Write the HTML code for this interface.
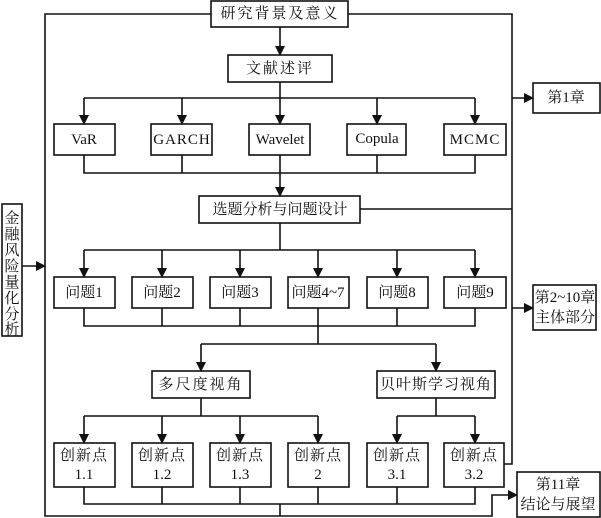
<!DOCTYPE html>
<html><head><meta charset="utf-8"><style>
html,body{margin:0;padding:0;background:#fff;}
svg{display:block;}
text{font-family:"Liberation Serif","Noto Serif CJK SC","Noto Sans CJK SC",serif;font-size:15px;fill:#111;text-anchor:middle;dominant-baseline:central;}
</style></head><body>
<svg width="601" height="518" viewBox="0 0 601 518" xmlns="http://www.w3.org/2000/svg">
<defs><marker id="a" markerWidth="10" markerHeight="10" refX="9" refY="5" orient="auto" markerUnits="userSpaceOnUse"><path d="M0,0 L10,5 L0,10 z" fill="#111"/></marker></defs>
<g fill="none" stroke="#111" stroke-width="1.6">
<!-- boxes -->
<rect x="211" y="1" width="137" height="26"/>
<rect x="228" y="55" width="104" height="27"/>
<rect x="54" y="124" width="61" height="31"/>
<rect x="151" y="124" width="61" height="31"/>
<rect x="249" y="124" width="61" height="31"/>
<rect x="347" y="124" width="59" height="31"/>
<rect x="444" y="124" width="62" height="31"/>
<rect x="199" y="196" width="161" height="27"/>
<rect x="2" y="204" width="20" height="132"/>
<rect x="54" y="277" width="61" height="31"/>
<rect x="132" y="277" width="61" height="31"/>
<rect x="210" y="277" width="61" height="31"/>
<rect x="288" y="277" width="61" height="31"/>
<rect x="367" y="277" width="61" height="31"/>
<rect x="444" y="277" width="62" height="31"/>
<rect x="152" y="371" width="98" height="27"/>
<rect x="377" y="371" width="118" height="27"/>
<rect x="54" y="443" width="61" height="44"/>
<rect x="132" y="443" width="61" height="44"/>
<rect x="210" y="443" width="61" height="44"/>
<rect x="288" y="443" width="61" height="44"/>
<rect x="367" y="443" width="61" height="44"/>
<rect x="444" y="443" width="60" height="44"/>
<rect x="533" y="83" width="67" height="30"/>
<rect x="533" y="285" width="63" height="45"/>
<rect x="517" y="472" width="83" height="45"/>
<!-- frame lines -->
<polyline points="211,14 45,14 45,516 492,516 492,495 517,495" marker-end="url(#a)"/>
<polyline points="348,14 512,14 512,464 504,464"/>
<line x1="360" y1="209" x2="512" y2="209"/>
<line x1="512" y1="98" x2="533" y2="98" marker-end="url(#a)"/>
<line x1="512" y1="308" x2="533" y2="308" marker-end="url(#a)"/>
<line x1="22" y1="266" x2="45" y2="266" marker-end="url(#a)"/>
<!-- top flow -->
<line x1="280" y1="27" x2="280" y2="55" marker-end="url(#a)"/>
<line x1="280" y1="82" x2="280" y2="98"/>
<line x1="84" y1="98" x2="475" y2="98"/>
<line x1="84" y1="98" x2="84" y2="124" marker-end="url(#a)"/>
<line x1="182" y1="98" x2="182" y2="124" marker-end="url(#a)"/>
<line x1="280" y1="98" x2="280" y2="124" marker-end="url(#a)"/>
<line x1="377" y1="98" x2="377" y2="124" marker-end="url(#a)"/>
<line x1="475" y1="98" x2="475" y2="124" marker-end="url(#a)"/>
<polyline points="84,155 84,173 475,173 475,155"/>
<line x1="182" y1="155" x2="182" y2="173"/>
<line x1="377" y1="155" x2="377" y2="173"/>
<line x1="280" y1="155" x2="280" y2="196" marker-end="url(#a)"/>
<line x1="280" y1="223" x2="280" y2="250"/>
<line x1="84" y1="250" x2="475" y2="250"/>
<line x1="84" y1="250" x2="84" y2="277" marker-end="url(#a)"/>
<line x1="162" y1="250" x2="162" y2="277" marker-end="url(#a)"/>
<line x1="240" y1="250" x2="240" y2="277" marker-end="url(#a)"/>
<line x1="318" y1="250" x2="318" y2="277" marker-end="url(#a)"/>
<line x1="397" y1="250" x2="397" y2="277" marker-end="url(#a)"/>
<line x1="475" y1="250" x2="475" y2="277" marker-end="url(#a)"/>
<polyline points="84,308 84,326 475,326 475,308"/>
<line x1="162" y1="308" x2="162" y2="326"/>
<line x1="240" y1="308" x2="240" y2="326"/>
<line x1="397" y1="308" x2="397" y2="326"/>
<line x1="318" y1="308" x2="318" y2="344"/>
<line x1="201" y1="344" x2="436" y2="344"/>
<line x1="201" y1="344" x2="201" y2="371" marker-end="url(#a)"/>
<line x1="436" y1="344" x2="436" y2="371" marker-end="url(#a)"/>
<line x1="201" y1="398" x2="201" y2="416"/>
<line x1="84" y1="416" x2="318" y2="416"/>
<line x1="84" y1="416" x2="84" y2="443" marker-end="url(#a)"/>
<line x1="162" y1="416" x2="162" y2="443" marker-end="url(#a)"/>
<line x1="240" y1="416" x2="240" y2="443" marker-end="url(#a)"/>
<line x1="318" y1="416" x2="318" y2="443" marker-end="url(#a)"/>
<line x1="436" y1="398" x2="436" y2="416"/>
<line x1="397" y1="416" x2="475" y2="416"/>
<line x1="397" y1="416" x2="397" y2="443" marker-end="url(#a)"/>
<line x1="475" y1="416" x2="475" y2="443" marker-end="url(#a)"/>
<polyline points="84,487 84,504 475,504 475,487"/>
<line x1="162" y1="487" x2="162" y2="504"/>
<line x1="240" y1="487" x2="240" y2="504"/>
<line x1="318" y1="487" x2="318" y2="504"/>
<line x1="397" y1="487" x2="397" y2="504"/>
<line x1="280" y1="504" x2="280" y2="516"/>
</g>
<text x="280" y="14" letter-spacing="2">研究背景及意义</text>
<text x="280" y="69" letter-spacing="2">文献述评</text>
<text x="84" y="140">VaR</text>
<text x="182" y="140" letter-spacing="1">GARCH</text>
<text x="280" y="140">Wavelet</text>
<text x="377" y="139">Copula</text>
<text x="475" y="140" letter-spacing="1">MCMC</text>
<text x="280" y="210">选题分析与问题设计</text>
<text x="84" y="293">问题1</text>
<text x="162" y="293">问题2</text>
<text x="240" y="293">问题3</text>
<text x="318" y="293">问题4~7</text>
<text x="397" y="293">问题8</text>
<text x="475" y="293">问题9</text>
<text x="201" y="385" letter-spacing="2">多尺度视角</text>
<text x="436" y="385" letter-spacing="1">贝叶斯学习视角</text>
<g>
<text x="84" y="456" letter-spacing="1">创新点</text><text x="84" y="475">1.1</text>
<text x="162" y="456" letter-spacing="1">创新点</text><text x="162" y="475">1.2</text>
<text x="240" y="456" letter-spacing="1">创新点</text><text x="240" y="475">1.3</text>
<text x="318" y="456" letter-spacing="1">创新点</text><text x="318" y="475">2</text>
<text x="397" y="456" letter-spacing="1">创新点</text><text x="397" y="475">3.1</text>
<text x="474" y="456" letter-spacing="1">创新点</text><text x="474" y="475">3.2</text>
</g>
<text x="566" y="98">第1章</text>
<text x="565" y="298">第2~10章</text>
<text x="565" y="318">主体部分</text>
<text x="558" y="485">第11章</text>
<text x="558" y="505">结论与展望</text>
<g>
<text x="12" y="219">金</text><text x="12" y="235">融</text><text x="12" y="251">风</text><text x="12" y="267">险</text>
<text x="12" y="283">量</text><text x="12" y="299">化</text><text x="12" y="315">分</text><text x="12" y="330">析</text>
</g>
</svg>
</body></html>
